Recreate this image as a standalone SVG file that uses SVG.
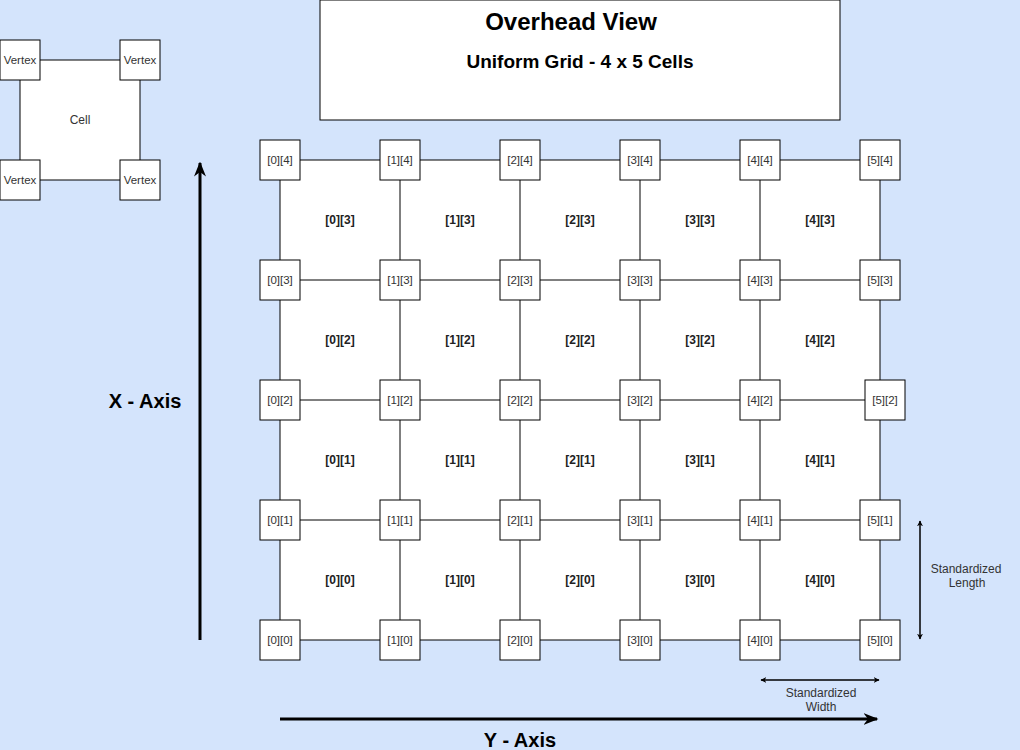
<svg xmlns="http://www.w3.org/2000/svg" width="1020" height="750" viewBox="0 0 1020 750">
<defs>
<style>
.bg{fill:#d4e4fc}
.v rect{fill:#fff;stroke:#000;stroke-width:1}
.v text,.lbl{font-family:"Liberation Sans",Arial,sans-serif;font-size:11.5px;fill:#333;text-anchor:middle;dominant-baseline:central}
.lbl{font-size:12px}
.cl{font-family:"Liberation Sans",Arial,sans-serif;font-size:12px;font-weight:bold;fill:#222;text-anchor:middle;dominant-baseline:central}
.edge{stroke:#000;stroke-width:1;fill:none}
.axis{stroke:#000;stroke-width:3;fill:none}
.dim{stroke:#000;stroke-width:1.5;fill:none}
.big{font-family:"Liberation Sans",Arial,sans-serif;font-weight:bold;fill:#000;text-anchor:middle;dominant-baseline:central}
</style>
<marker id="ah" viewBox="0 0 10 10" refX="9" refY="5" markerWidth="6" markerHeight="6" markerUnits="userSpaceOnUse" orient="auto-start-reverse">
<path d="M0,0 L10,5 L0,10 L3,5 Z" fill="#000"/>
</marker>
<marker id="ahb" viewBox="0 0 10 10" refX="9" refY="5" markerWidth="15" markerHeight="15" markerUnits="userSpaceOnUse" orient="auto">
<path d="M0,1 L10,5 L0,9 L3,5 Z" fill="#000"/>
</marker>
</defs>
<rect class="bg" x="0" y="0" width="1020" height="750"/>

<g id="cells">
<rect x="20" y="60" width="120" height="120" fill="#fff"/>
<rect x="280" y="160" width="600" height="480" fill="#fff"/>
</g>

<g id="connectors">
<line class="edge" x1="40" y1="60" x2="120" y2="60"/>
<line class="edge" x1="40" y1="180" x2="120" y2="180"/>
<line class="edge" x1="20" y1="80" x2="20" y2="160"/>
<line class="edge" x1="140" y1="80" x2="140" y2="160"/>
<path class="edge" d="M280,160H880M280,280H880M280,400H880M280,520H880M280,640H880"/>
<path class="edge" d="M280,160V640M400,160V640M520,160V640M640,160V640M760,160V640M880,160V640"/>
<line class="axis" x1="200" y1="640" x2="200" y2="163" marker-end="url(#ahb)"/>
<line class="axis" x1="280" y1="719" x2="877" y2="719" marker-end="url(#ahb)"/>
<line class="dim" x1="920" y1="521" x2="920" y2="639" marker-start="url(#ah)" marker-end="url(#ah)"/>
<line class="dim" x1="761" y1="680" x2="879" y2="680" marker-start="url(#ah)" marker-end="url(#ah)"/>
</g>

<g id="legend">
<g id="lv1" class="v"><rect x="0" y="40" width="40" height="40"/><text x="20" y="60">Vertex</text></g>
<g id="lv2" class="v"><rect x="120" y="40" width="40" height="40"/><text x="140" y="60">Vertex</text></g>
<g id="lv3" class="v"><rect x="0" y="160" width="40" height="40"/><text x="20" y="180">Vertex</text></g>
<g id="lv4" class="v"><rect x="120" y="160" width="40" height="40"/><text x="140" y="180">Vertex</text></g>
<g id="lcell"><text class="lbl" x="80" y="120">Cell</text></g>
</g>

<g id="title">
<rect x="320" y="0" width="520" height="120" fill="#fff" stroke="#000"/>
<text class="big" x="571" y="21" font-size="24">Overhead View</text>
<text class="big" x="580" y="61" font-size="19">Uniform Grid - 4 x 5 Cells</text>
</g>

<g id="cell-labels">
<text class="cl" x="340" y="220">[0][3]</text><text class="cl" x="460" y="220">[1][3]</text><text class="cl" x="580" y="220">[2][3]</text><text class="cl" x="700" y="220">[3][3]</text><text class="cl" x="820" y="220">[4][3]</text>
<text class="cl" x="340" y="340">[0][2]</text><text class="cl" x="460" y="340">[1][2]</text><text class="cl" x="580" y="340">[2][2]</text><text class="cl" x="700" y="340">[3][2]</text><text class="cl" x="820" y="340">[4][2]</text>
<text class="cl" x="340" y="460">[0][1]</text><text class="cl" x="460" y="460">[1][1]</text><text class="cl" x="580" y="460">[2][1]</text><text class="cl" x="700" y="460">[3][1]</text><text class="cl" x="820" y="460">[4][1]</text>
<text class="cl" x="340" y="580">[0][0]</text><text class="cl" x="460" y="580">[1][0]</text><text class="cl" x="580" y="580">[2][0]</text><text class="cl" x="700" y="580">[3][0]</text><text class="cl" x="820" y="580">[4][0]</text>
</g>

<g id="vertices">
<g id="v04" class="v"><rect x="260" y="140" width="40" height="40"/><text x="280" y="160">[0][4]</text></g>
<g id="v14" class="v"><rect x="380" y="140" width="40" height="40"/><text x="400" y="160">[1][4]</text></g>
<g id="v24" class="v"><rect x="500" y="140" width="40" height="40"/><text x="520" y="160">[2][4]</text></g>
<g id="v34" class="v"><rect x="620" y="140" width="40" height="40"/><text x="640" y="160">[3][4]</text></g>
<g id="v44" class="v"><rect x="740" y="140" width="40" height="40"/><text x="760" y="160">[4][4]</text></g>
<g id="v54" class="v"><rect x="860" y="140" width="40" height="40"/><text x="880" y="160">[5][4]</text></g>

<g id="v03" class="v"><rect x="260" y="260" width="40" height="40"/><text x="280" y="280">[0][3]</text></g>
<g id="v13" class="v"><rect x="380" y="260" width="40" height="40"/><text x="400" y="280">[1][3]</text></g>
<g id="v23" class="v"><rect x="500" y="260" width="40" height="40"/><text x="520" y="280">[2][3]</text></g>
<g id="v33" class="v"><rect x="620" y="260" width="40" height="40"/><text x="640" y="280">[3][3]</text></g>
<g id="v43" class="v"><rect x="740" y="260" width="40" height="40"/><text x="760" y="280">[4][3]</text></g>
<g id="v53" class="v"><rect x="860" y="260" width="40" height="40"/><text x="880" y="280">[5][3]</text></g>

<g id="v02" class="v"><rect x="260" y="380" width="40" height="40"/><text x="280" y="400">[0][2]</text></g>
<g id="v12" class="v"><rect x="380" y="380" width="40" height="40"/><text x="400" y="400">[1][2]</text></g>
<g id="v22" class="v"><rect x="500" y="380" width="40" height="40"/><text x="520" y="400">[2][2]</text></g>
<g id="v32" class="v"><rect x="620" y="380" width="40" height="40"/><text x="640" y="400">[3][2]</text></g>
<g id="v42" class="v"><rect x="740" y="380" width="40" height="40"/><text x="760" y="400">[4][2]</text></g>
<g id="v52" class="v"><rect x="865" y="380" width="40" height="40"/><text x="885" y="400">[5][2]</text></g>

<g id="v01" class="v"><rect x="260" y="500" width="40" height="40"/><text x="280" y="520">[0][1]</text></g>
<g id="v11" class="v"><rect x="380" y="500" width="40" height="40"/><text x="400" y="520">[1][1]</text></g>
<g id="v21" class="v"><rect x="500" y="500" width="40" height="40"/><text x="520" y="520">[2][1]</text></g>
<g id="v31" class="v"><rect x="620" y="500" width="40" height="40"/><text x="640" y="520">[3][1]</text></g>
<g id="v41" class="v"><rect x="740" y="500" width="40" height="40"/><text x="760" y="520">[4][1]</text></g>
<g id="v51" class="v"><rect x="860" y="500" width="40" height="40"/><text x="880" y="520">[5][1]</text></g>

<g id="v00" class="v"><rect x="260" y="620" width="40" height="40"/><text x="280" y="640">[0][0]</text></g>
<g id="v10" class="v"><rect x="380" y="620" width="40" height="40"/><text x="400" y="640">[1][0]</text></g>
<g id="v20" class="v"><rect x="500" y="620" width="40" height="40"/><text x="520" y="640">[2][0]</text></g>
<g id="v30" class="v"><rect x="620" y="620" width="40" height="40"/><text x="640" y="640">[3][0]</text></g>
<g id="v40" class="v"><rect x="740" y="620" width="40" height="40"/><text x="760" y="640">[4][0]</text></g>
<g id="v50" class="v"><rect x="860" y="620" width="40" height="40"/><text x="880" y="640">[5][0]</text></g>
</g>

<g id="axis-labels">
<text class="big" x="145" y="401" font-size="20">X - Axis</text>
<text class="big" x="520" y="740" font-size="20">Y - Axis</text>
<text class="lbl" x="966" y="569">Standardized</text>
<text class="lbl" x="967" y="583">Length</text>
<text class="lbl" x="821" y="693">Standardized</text>
<text class="lbl" x="821" y="707">Width</text>
</g>
</svg>
